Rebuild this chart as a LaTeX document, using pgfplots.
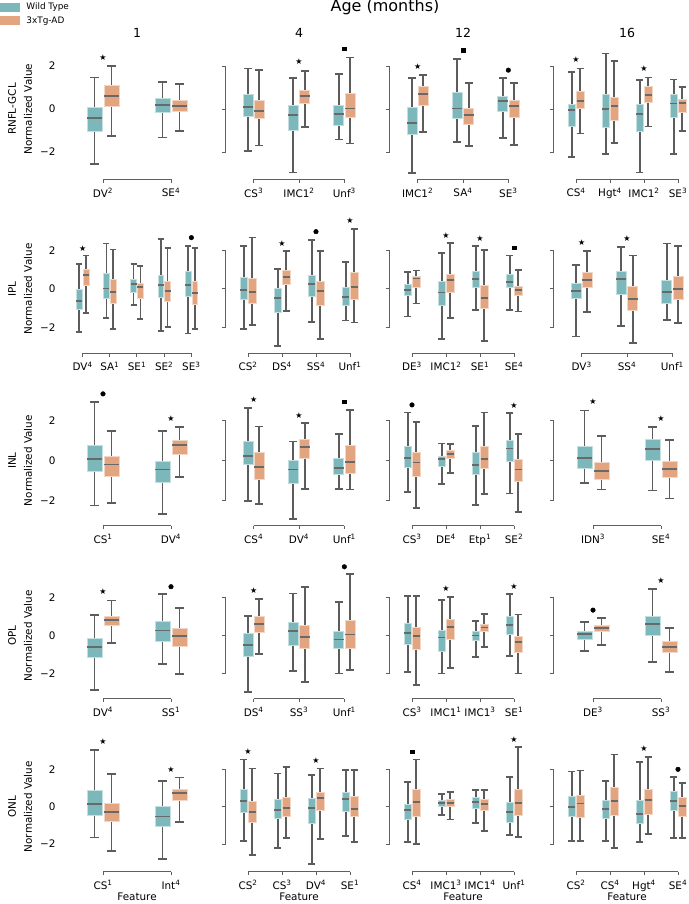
\documentclass[border=0pt]{standalone}
\usepackage{fontspec}
\setmainfont{DejaVu Sans}
\usepackage{pgfplots}
\pgfplotsset{compat=1.18}
\usepgfplotslibrary{statistics}

\definecolor{wt}{RGB}{124,183,187}
\definecolor{ad}{RGB}{227,165,128}
\definecolor{whisk}{RGB}{92,92,92}
\definecolor{medc}{RGB}{105,105,105}
\definecolor{spinec}{RGB}{95,95,95}

\newcommand{\fs}{\fontsize{10.4}{12}\selectfont}

\pgfplotsset{
  panel/.style={scale only axis, width=136pt, clip=false,
    axis line style={draw=none}, tick style={draw=none}, major tick length=0pt,
    ytick=\empty, xmin=-0.5, xticklabel shift=12pt,
    tick label style={font=\fs},
    boxplot/draw direction=y,
    boxplot/box extend=0.22,
    boxplot/every whisker/.style={draw=whisk, line width=1.7pt},
    boxplot/every median/.style={draw=medc, line width=1.7pt},
    boxplot/every box/.style={line width=0.6pt}},
  first/.style={ytick={-2,0,2}, yticklabels={−2,0,2}, yticklabel shift=10pt},
  n2/.style={xmax=1.5, boxplot/whisker extend=0.125},
  n3/.style={xmax=2.5, boxplot/whisker extend=0.17},
  n4/.style={xmax=3.5, boxplot/whisker extend=0.22},
  n5/.style={xmax=4.5, boxplot/whisker extend=0.22},
  r1/.style={y=21.5pt, ymin=-2.95, ymax=2.95},
  r2/.style={y=19.3pt, ymin=-2.97, ymax=2.97},
  r3/.style={y=20.1pt, ymin=-2.89, ymax=2.89},
  r4/.style={y=19.0pt, ymin=-2.96, ymax=2.96},
  r5/.style={y=18.7pt, ymin=-3.10, ymax=3.10},
  wb/.style={fill=wt, draw=wt!45!white},
  ab/.style={fill=ad, draw=ad!45!white},
  starm/.style={only marks, mark=text, text mark={★}, text mark as node=true,
    text mark style={font=\fontsize{8}{8}\selectfont, inner sep=0pt}, black},
  circm/.style={only marks, mark=*, mark size=2.3pt, black},
  sqm/.style={only marks, mark=square*, mark size=1.7pt, black},
}

% one box: position, lower whisker, lower quartile, median, upper quartile, upper whisker
\newcommand{\bw}[6]{\addplot[wb, boxplot prepared={draw position=#1-0.125,
  lower whisker=#2, lower quartile=#3, median=#4, upper quartile=#5, upper whisker=#6}] coordinates {};}
\newcommand{\ba}[6]{\addplot[ab, boxplot prepared={draw position=#1+0.125,
  lower whisker=#2, lower quartile=#3, median=#4, upper quartile=#5, upper whisker=#6}] coordinates {};}

% trimmed, offset spines
\newcommand{\xsp}[2]{%
  \draw[spinec, line width=1pt] ([yshift=-7pt]axis cs:0,#2) -- ([yshift=-7pt]axis cs:#1,#2);
  \pgfplotsinvokeforeach{0,...,#1}{\draw[spinec, line width=1pt] ([yshift=-7pt]axis cs:##1,#2) -- ([yshift=-10.5pt]axis cs:##1,#2);}}
\newcommand{\ysp}{%
  \draw[spinec, line width=1pt] ([xshift=-9.5pt]axis cs:-0.5,-2) -- ([xshift=-6pt]axis cs:-0.5,-2)
    -- ([xshift=-6pt]axis cs:-0.5,2) -- ([xshift=-9.5pt]axis cs:-0.5,2);
  \draw[spinec, line width=1pt] ([xshift=-9.5pt]axis cs:-0.5,0) -- ([xshift=-6pt]axis cs:-0.5,0);}
\newcommand{\rowlab}[1]{%
  \node[rotate=90, font=\fs] at ([xshift=-41pt]axis cs:-0.5,0) {Normalized Value};
  \node[rotate=90, font=\fs] at ([xshift=-57pt]axis cs:-0.5,0) {#1};}
\newcommand{\coltitle}[1]{\node[font=\fontsize{12.5}{14}\selectfont] at ([yshift=13pt]rel axis cs:0.5,1) {#1};}
\newcommand{\feat}{\node[font=\fs] at ([yshift=-32.5pt]rel axis cs:0.5,0) {Feature};}

\begin{document}
\begin{tikzpicture}
\useasboundingbox (0,0) rectangle (688pt,904pt);

% ================= Row 1: RNFL-GCL =================
\begin{axis}[panel, first, r1, n2, at={(69pt,731.5pt)}, anchor=south west,
  xtick={0,1}, xticklabels={DV\textsuperscript{2}, SE\textsuperscript{4}},
  legend cell align=left,
  legend image code/.code={\path[#1, draw=none] (0pt,-4.2pt) rectangle (20pt,4.2pt); \path (24pt,0pt);},
  legend style={at={(-0.507,1.352)}, anchor=north west, draw=none, fill=none,
    font=\fontsize{8.9}{10}\selectfont, row sep=1pt, inner sep=0pt}]
\addlegendimage{fill=wt}\addlegendentry{Wild Type}
\addlegendimage{fill=ad}\addlegendentry{3xTg-AD}
\bw{0}{-2.56}{-1.02}{-0.43}{0.08}{1.47}
\ba{0}{-1.26}{0.14}{0.60}{1.10}{2.01}
\bw{1}{-1.32}{-0.17}{0.19}{0.50}{1.27}
\ba{1}{-1.02}{-0.12}{0.14}{0.42}{1.15}
\addplot[starm] coordinates {(0,2.40)};
\xsp{1}{-2.95}\rowlab{RNFL-GCL}\coltitle{1}
\end{axis}

\begin{axis}[panel, r1, n3, at={(231pt,731.5pt)}, anchor=south west,
  xtick={0,1,2}, xticklabels={CS\textsuperscript{3}, IMC1\textsuperscript{2}, Unf\textsuperscript{3}}]
\bw{0}{-1.94}{-0.33}{0.09}{0.70}{1.88}
\ba{0}{-1.69}{-0.43}{-0.08}{0.42}{1.83}
\bw{1}{-2.95}{-1.01}{-0.28}{0.19}{1.44}
\ba{1}{-0.85}{0.26}{0.60}{0.88}{1.77}
\bw{2}{-1.41}{-0.76}{-0.22}{0.17}{1.64}
\ba{2}{-1.60}{-0.40}{0.02}{0.73}{2.40}
\addplot[starm] coordinates {(1,2.19)};
\addplot[sqm] coordinates {(2,2.81)};
\xsp{2}{-2.95}\ysp\coltitle{4}
\end{axis}

\begin{axis}[panel, r1, n3, at={(395pt,731.5pt)}, anchor=south west,
  xtick={0,1,2}, xticklabels={IMC1\textsuperscript{2}, SA\textsuperscript{4}, SE\textsuperscript{3}}]
\bw{0}{-2.98}{-1.18}{-0.65}{0.08}{1.46}
\ba{0}{-1.07}{0.16}{0.70}{1.06}{1.57}
\bw{1}{-1.52}{-0.45}{0.02}{0.79}{2.34}
\ba{1}{-1.72}{-0.71}{-0.29}{0.03}{1.22}
\bw{2}{-1.35}{-0.12}{0.39}{0.60}{1.44}
\ba{2}{-1.66}{-0.39}{0.14}{0.42}{1.22}
\addplot[starm] coordinates {(0,1.97)};
\addplot[sqm] coordinates {(1,2.74)};
\addplot[circm] coordinates {(2,1.81)};
\xsp{2}{-2.95}\ysp\coltitle{12}
\end{axis}

\begin{axis}[panel, r1, n4, at={(559pt,731.5pt)}, anchor=south west,
  xtick={0,1,2,3}, xticklabels={CS\textsuperscript{4}, Hgt\textsuperscript{4}, IMC1\textsuperscript{2}, SE\textsuperscript{3}}]
\bw{0}{-2.23}{-0.79}{-0.05}{0.22}{1.72}
\ba{0}{-1.13}{0.03}{0.39}{0.84}{1.89}
\bw{1}{-2.08}{-0.87}{0.00}{0.67}{2.59}
\ba{1}{-1.58}{-0.51}{0.14}{0.57}{2.25}
\bw{2}{-2.95}{-1.02}{-0.23}{0.20}{1.36}
\ba{2}{-0.81}{0.31}{0.65}{1.06}{1.47}
\bw{3}{-2.08}{-0.37}{0.26}{0.67}{1.38}
\ba{3}{-1.02}{-0.14}{0.29}{0.45}{1.04}
\addplot[starm] coordinates {(0,2.28) (2,1.86)};
\xsp{3}{-2.95}\ysp\coltitle{16}
\end{axis}

% ================= Row 2: IPL =================
\begin{axis}[panel, first, r2, n5, at={(69pt,557.7pt)}, anchor=south west,
  xtick={0,...,4}, xticklabels={DV\textsuperscript{4}, SA\textsuperscript{1}, SE\textsuperscript{1}, SE\textsuperscript{2}, SE\textsuperscript{3}}]
\bw{0}{-2.24}{-1.05}{-0.62}{0.00}{1.28}
\ba{0}{-1.26}{0.17}{0.73}{1.04}{1.73}
\bw{1}{-1.50}{-0.48}{0.03}{0.79}{2.35}
\ba{1}{-2.09}{-0.74}{-0.17}{0.50}{2.04}
\bw{2}{-0.83}{-0.16}{0.26}{0.50}{1.28}
\ba{2}{-1.54}{-0.48}{0.09}{0.29}{1.19}
\bw{3}{-2.18}{-0.45}{0.19}{0.73}{2.59}
\ba{3}{-1.98}{-0.62}{-0.09}{0.41}{2.11}
\bw{4}{-2.30}{-0.40}{0.19}{0.90}{2.24}
\ba{4}{-2.09}{-0.78}{-0.22}{0.38}{2.11}
\addplot[starm] coordinates {(0,2.11)};
\addplot[circm] coordinates {(4,2.66)};
\xsp{4}{-2.97}\rowlab{IPL}
\end{axis}

\begin{axis}[panel, r2, n4, at={(231pt,557.7pt)}, anchor=south west,
  xtick={0,...,3}, xticklabels={CS\textsuperscript{2}, DS\textsuperscript{4}, SS\textsuperscript{4}, Unf\textsuperscript{1}}]
\bw{0}{-2.07}{-0.54}{-0.05}{0.60}{2.24}
\ba{0}{-1.85}{-0.76}{-0.17}{0.55}{2.66}
\bw{1}{-2.94}{-1.23}{-0.48}{0.02}{1.02}
\ba{1}{-1.14}{0.24}{0.62}{0.98}{1.95}
\bw{2}{-1.71}{-0.36}{0.24}{0.71}{2.54}
\ba{2}{-2.59}{-0.83}{-0.12}{0.38}{1.98}
\bw{3}{-1.64}{-0.83}{-0.41}{0.09}{1.40}
\ba{3}{-1.74}{-0.55}{0.12}{0.85}{3.11}
\addplot[starm] coordinates {(1,2.37) (3,3.52)};
\addplot[circm] coordinates {(2,2.97)};
\xsp{3}{-2.97}\ysp
\end{axis}

\begin{axis}[panel, r2, n4, at={(395pt,557.7pt)}, anchor=south west,
  xtick={0,...,3}, xticklabels={DE\textsuperscript{3}, IMC1\textsuperscript{2}, SE\textsuperscript{1}, SE\textsuperscript{4}}]
\bw{0}{-1.43}{-0.35}{-0.05}{0.24}{0.88}
\ba{0}{-0.76}{0.09}{0.55}{0.64}{0.95}
\bw{1}{-2.59}{-0.85}{-0.19}{0.41}{1.88}
\ba{1}{-1.49}{-0.17}{0.47}{0.76}{2.37}
\bw{2}{-1.09}{0.09}{0.50}{0.93}{2.23}
\ba{2}{-2.68}{-1.00}{-0.47}{0.21}{2.02}
\bw{3}{-1.09}{0.07}{0.36}{0.76}{1.74}
\ba{3}{-1.17}{-0.35}{-0.05}{0.14}{1.00}
\addplot[starm] coordinates {(1,2.76) (2,2.63)};
\addplot[sqm] coordinates {(3,2.14)};
\xsp{3}{-2.97}\ysp
\end{axis}

\begin{axis}[panel, r2, n3, at={(559pt,557.7pt)}, anchor=south west,
  xtick={0,1,2}, xticklabels={DV\textsuperscript{3}, SS\textsuperscript{4}, Unf\textsuperscript{1}}]
\bw{0}{-2.47}{-0.47}{-0.09}{0.29}{1.23}
\ba{0}{-1.21}{0.07}{0.45}{0.88}{1.98}
\bw{1}{-1.92}{-0.26}{0.50}{0.93}{2.19}
\ba{1}{-2.80}{-1.10}{-0.53}{0.14}{1.74}
\bw{2}{-1.61}{-0.74}{-0.14}{0.43}{2.35}
\ba{2}{-1.78}{-0.52}{0.00}{0.67}{2.23}
\addplot[starm] coordinates {(0,2.40) (1,2.61)};
\xsp{2}{-2.97}\ysp
\end{axis}

% ================= Row 3: INL =================
\begin{axis}[panel, first, r3, n2, at={(69pt,385.3pt)}, anchor=south west,
  xtick={0,1}, xticklabels={CS\textsuperscript{1}, DV\textsuperscript{4}}]
\bw{0}{-2.24}{-0.55}{0.08}{0.78}{2.92}
\ba{0}{-2.10}{-0.76}{-0.20}{0.20}{1.49}
\bw{1}{-2.67}{-1.09}{-0.45}{-0.03}{1.46}
\ba{1}{-0.81}{0.32}{0.77}{1.03}{1.68}
\addplot[circm] coordinates {(0,3.32)};
\addplot[starm] coordinates {(1,2.09)};
\xsp{1}{-2.89}\rowlab{INL}
\end{axis}

\begin{axis}[panel, r3, n3, at={(231pt,385.3pt)}, anchor=south west,
  xtick={0,1,2}, xticklabels={CS\textsuperscript{4}, DV\textsuperscript{4}, Unf\textsuperscript{1}}]
\bw{0}{-2.01}{-0.20}{0.22}{0.98}{2.62}
\ba{0}{-2.17}{-0.93}{-0.33}{0.43}{1.69}
\bw{1}{-2.90}{-1.14}{-0.45}{0.03}{0.95}
\ba{1}{-1.42}{0.12}{0.68}{1.08}{1.88}
\bw{2}{-1.41}{-0.68}{-0.36}{0.10}{1.33}
\ba{2}{-1.44}{-0.61}{-0.08}{0.77}{2.51}
\addplot[starm] coordinates {(0,3.02) (1,2.26)};
\addplot[sqm] coordinates {(2,2.92)};
\xsp{2}{-2.89}\ysp
\end{axis}

\begin{axis}[panel, r3, n4, at={(395pt,385.3pt)}, anchor=south west,
  xtick={0,...,3}, xticklabels={CS\textsuperscript{3}, DE\textsuperscript{4}, Etp\textsuperscript{1}, SE\textsuperscript{2}}]
\bw{0}{-1.56}{-0.35}{0.12}{0.72}{2.39}
\ba{0}{-2.35}{-0.78}{-0.10}{0.40}{1.91}
\bw{1}{-1.16}{-0.30}{0.08}{0.22}{0.85}
\ba{1}{-0.60}{0.10}{0.32}{0.52}{0.83}
\bw{2}{-2.20}{-0.66}{-0.21}{0.40}{1.73}
\ba{2}{-1.66}{-0.36}{0.08}{0.73}{2.39}
\bw{3}{-1.64}{-0.03}{0.60}{1.00}{2.36}
\ba{3}{-2.55}{-1.04}{-0.45}{0.08}{1.31}
\addplot[circm] coordinates {(0,2.77)};
\addplot[starm] coordinates {(3,2.74)};
\xsp{3}{-2.89}\ysp
\end{axis}

\begin{axis}[panel, r3, n2, at={(559pt,385.3pt)}, anchor=south west,
  xtick={0,1}, xticklabels={IDN\textsuperscript{3}, SE\textsuperscript{4}}]
\bw{0}{-1.12}{-0.40}{0.12}{0.70}{2.49}
\ba{0}{-1.44}{-0.93}{-0.50}{-0.08}{1.21}
\bw{1}{-1.49}{0.02}{0.57}{1.05}{1.68}
\ba{1}{-1.89}{-0.85}{-0.41}{-0.01}{1.01}
\addplot[starm] coordinates {(0,2.92) (1,2.07)};
\xsp{1}{-2.89}\ysp
\end{axis}

% ================= Row 4: OPL =================
\begin{axis}[panel, first, r4, n2, at={(69pt,212pt)}, anchor=south west,
  xtick={0,1}, xticklabels={DV\textsuperscript{4}, SS\textsuperscript{1}}]
\bw{0}{-2.86}{-1.14}{-0.59}{-0.14}{1.09}
\ba{0}{-0.37}{0.56}{0.84}{1.05}{1.86}
\bw{1}{-1.47}{-0.28}{0.28}{0.77}{2.19}
\ba{1}{-2.02}{-0.54}{0.00}{0.39}{1.46}
\addplot[starm] coordinates {(0,2.30)};
\addplot[circm] coordinates {(1,2.58)};
\xsp{1}{-2.96}\rowlab{OPL}
\end{axis}

\begin{axis}[panel, r4, n3, at={(231pt,212pt)}, anchor=south west,
  xtick={0,1,2}, xticklabels={DS\textsuperscript{4}, SS\textsuperscript{3}, Unf\textsuperscript{1}}]
\bw{0}{-2.95}{-1.07}{-0.49}{0.13}{1.04}
\ba{0}{-0.96}{0.19}{0.63}{1.02}{1.95}
\bw{1}{-1.86}{-0.49}{0.25}{0.72}{2.23}
\ba{1}{-2.44}{-0.68}{-0.07}{0.55}{2.55}
\bw{2}{-1.98}{-0.66}{-0.19}{0.23}{1.76}
\ba{2}{-1.82}{-0.65}{0.07}{0.83}{3.26}
\addplot[starm] coordinates {(0,2.37)};
\addplot[circm] coordinates {(2,3.63)};
\xsp{2}{-2.96}\ysp
\end{axis}

\begin{axis}[panel, r4, n4, at={(395pt,212pt)}, anchor=south west,
  xtick={0,...,3}, xticklabels={CS\textsuperscript{3}, IMC1\textsuperscript{1}, IMC1\textsuperscript{3}, SE\textsuperscript{1}}]
\bw{0}{-1.89}{-0.47}{0.16}{0.65}{2.11}
\ba{0}{-2.61}{-0.72}{-0.03}{0.47}{2.09}
\bw{1}{-1.98}{-0.82}{-0.09}{0.30}{1.88}
\ba{1}{-1.68}{-0.17}{0.46}{0.88}{2.05}
\bw{2}{-1.10}{-0.23}{0.02}{0.23}{0.77}
\ba{2}{-0.58}{0.21}{0.44}{0.60}{1.14}
\bw{3}{-1.07}{0.07}{0.58}{1.00}{2.18}
\ba{3}{-1.98}{-0.89}{-0.33}{-0.05}{1.12}
\addplot[starm] coordinates {(1,2.46) (3,2.58)};
\xsp{3}{-2.96}\ysp
\end{axis}

\begin{axis}[panel, r4, n2, at={(559pt,212pt)}, anchor=south west,
  xtick={0,1}, xticklabels={DE\textsuperscript{3}, SS\textsuperscript{3}}]
\bw{0}{-0.81}{-0.17}{0.09}{0.23}{0.72}
\ba{0}{-0.47}{0.21}{0.39}{0.53}{0.93}
\bw{1}{-1.38}{0.04}{0.63}{1.05}{2.46}
\ba{1}{-1.89}{-0.89}{-0.58}{-0.28}{0.39}
\addplot[circm] coordinates {(0,1.35)};
\addplot[starm] coordinates {(1,2.88)};
\xsp{1}{-2.96}\ysp
\end{axis}

% ================= Row 5: ONL =================
\begin{axis}[panel, first, r5, n2, at={(69pt,39.3pt)}, anchor=south west,
  xtick={0,1}, xticklabels={CS\textsuperscript{1}, Int\textsuperscript{4}}]
\bw{0}{-1.64}{-0.44}{0.16}{0.86}{3.03}
\ba{0}{-2.35}{-0.77}{-0.30}{0.18}{1.75}
\bw{1}{-2.81}{-1.07}{-0.53}{0.00}{1.37}
\ba{1}{-0.82}{0.32}{0.73}{0.93}{1.57}
\addplot[starm] coordinates {(0,3.46) (1,1.96)};
\xsp{1}{-3.10}\rowlab{ONL}\feat
\end{axis}

\begin{axis}[panel, r5, n4, at={(231pt,39.3pt)}, anchor=south west,
  xtick={0,...,3}, xticklabels={CS\textsuperscript{2}, CS\textsuperscript{3}, DV\textsuperscript{4}, SE\textsuperscript{1}}]
\bw{0}{-1.85}{-0.30}{0.32}{0.93}{2.53}
\ba{0}{-2.57}{-0.84}{-0.27}{0.27}{2.05}
\bw{1}{-2.19}{-0.64}{-0.18}{0.40}{1.78}
\ba{1}{-1.67}{-0.53}{-0.05}{0.53}{2.14}
\bw{2}{-3.08}{-0.89}{-0.05}{0.43}{1.68}
\ba{2}{-1.73}{-0.21}{0.47}{0.77}{2.05}
\bw{3}{-1.55}{-0.27}{0.41}{0.77}{1.96}
\ba{3}{-1.87}{-0.53}{-0.12}{0.55}{1.96}
\addplot[starm] coordinates {(0,2.94) (2,2.46)};
\xsp{3}{-3.10}\ysp\feat
\end{axis}

\begin{axis}[panel, r5, n4, at={(395pt,39.3pt)}, anchor=south west,
  xtick={0,...,3}, xticklabels={CS\textsuperscript{4}, IMC1\textsuperscript{3}, IMC1\textsuperscript{4}, Unf\textsuperscript{1}}]
\bw{0}{-1.87}{-0.66}{-0.19}{0.13}{1.34}
\ba{0}{-1.99}{-0.50}{0.24}{0.93}{2.53}
\bw{1}{-0.44}{0.04}{0.21}{0.32}{0.68}
\ba{1}{-0.68}{0.04}{0.21}{0.41}{0.77}
\bw{2}{-0.86}{-0.09}{0.25}{0.48}{0.91}
\ba{2}{-1.28}{-0.18}{0.13}{0.41}{0.91}
\bw{3}{-1.50}{-0.84}{-0.27}{0.24}{1.60}
\ba{3}{-1.60}{-0.48}{0.21}{0.93}{3.21}
\addplot[sqm] coordinates {(0,2.94)};
\addplot[starm] coordinates {(3,3.60)};
\xsp{3}{-3.10}\ysp\feat
\end{axis}

\begin{axis}[panel, r5, n4, at={(559pt,39.3pt)}, anchor=south west,
  xtick={0,...,3}, xticklabels={CS\textsuperscript{2}, CS\textsuperscript{4}, Hgt\textsuperscript{4}, SE\textsuperscript{4}}]
\bw{0}{-1.83}{-0.50}{0.00}{0.55}{1.89}
\ba{0}{-1.83}{-0.59}{0.18}{0.63}{1.93}
\bw{1}{-1.83}{-0.64}{-0.14}{0.36}{1.39}
\ba{1}{-2.19}{-0.44}{0.30}{1.02}{2.80}
\bw{2}{-1.89}{-0.89}{-0.39}{0.36}{2.39}
\ba{2}{-1.46}{-0.43}{0.37}{0.95}{2.67}
\bw{3}{-1.69}{-0.19}{0.30}{0.84}{1.60}
\ba{3}{-1.69}{-0.53}{0.05}{0.48}{1.28}
\addplot[starm] coordinates {(2,3.09)};
\addplot[circm] coordinates {(3,2.00)};
\xsp{3}{-3.10}\ysp\feat
\end{axis}

\node[font=\fontsize{16}{18}\selectfont] at (385pt,897pt) {Age (months)};
\end{tikzpicture}
\end{document}
